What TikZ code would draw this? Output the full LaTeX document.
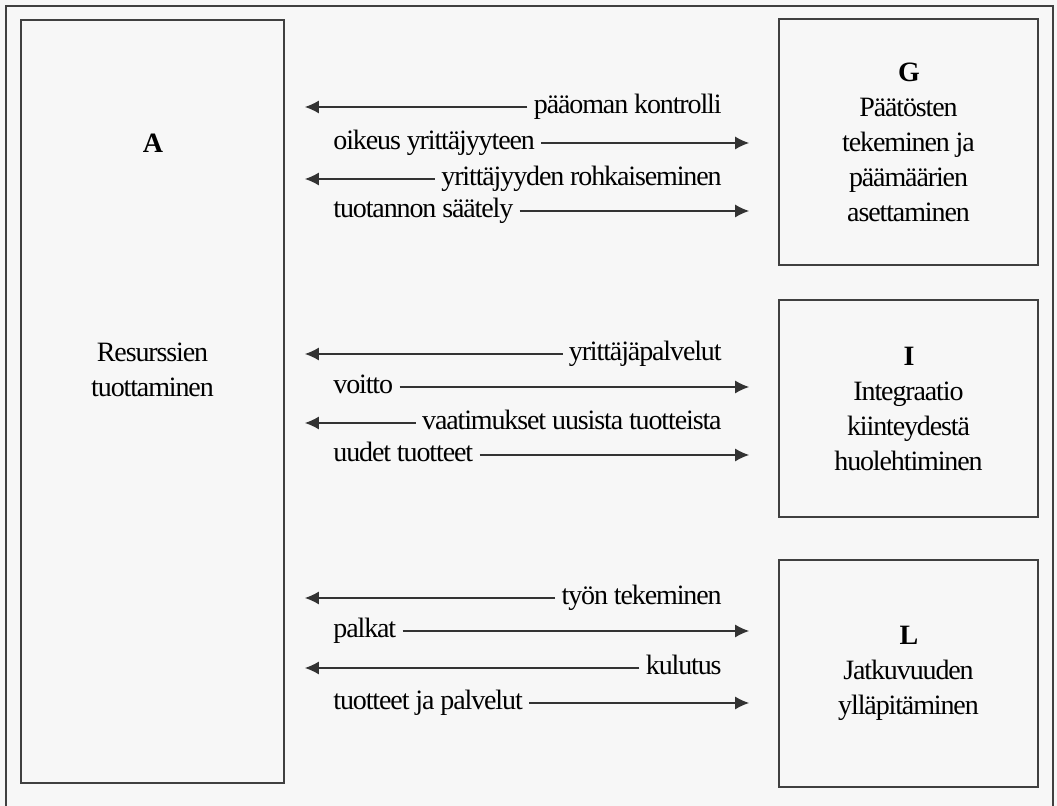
\documentclass[tikz,border=0pt]{standalone}
\usepackage{fontspec}
\setmainfont{Liberation Serif}[LetterSpace=-4]
\usetikzlibrary{arrows.meta}

\begin{document}
\begin{tikzpicture}[x=0.5pt, y=-0.5pt, font=\fontsize{14}{17.5}\selectfont,
		box/.style={draw=black!75, line width=0.9pt, align=center, text=black},
		lbl/.style={text=black, inner xsep=3pt, inner ysep=0pt, text height=6.2pt, text depth=0pt},
		toA/.style={-{Latex[length=7pt,width=6.5pt]}, draw=black!80, line width=0.6pt, shorten >=10pt},
		toR/.style={-{Latex[length=7pt,width=6.5pt]}, draw=black!80, line width=0.6pt, shorten >=14.5pt}]
	\fill[black!3] (0,0) rectangle (1057,806);
	\useasboundingbox (0,0) rectangle (1057,806);
	\draw[black!75, line width=0.9pt] (6,806) -- (6,6) -- (1053,6) -- (1053,806);

	\node[box, minimum width=131.5pt, minimum height=381.5pt] (A) at (152.5,401.5) {};
	\node[text=black] (Atitle) at (152.5,143) {\textbf{A}};
	\node[text=black, align=center] (Atext) at (152.5,370) {Resurssien\\tuottaminen};
	\node[box, minimum width=129.5pt, minimum height=123pt] (G) at (908.5,142) {\textbf{G}\\Päätösten\\tekeminen ja\\päämäärien\\asettaminen};
	\node[box, minimum width=129.5pt, minimum height=108.5pt] (I) at (908.5,408.5) {\textbf{I}\\Integraatio\\kiinteydestä\\huolehtiminen};
	\node[box, minimum width=129.5pt, minimum height=113.5pt] (L) at (908.5,673.5) {\textbf{L}\\Jatkuvuuden\\ylläpitäminen};

	\node[lbl, anchor=east] (kontrolli) at (728,107) {pääoman kontrolli};
	\node[lbl, anchor=west] (oikeus) at (327,143) {oikeus yrittäjyyteen};
	\node[lbl, anchor=east] (rohkaisu) at (728,179) {yrittäjyyden rohkaiseminen};
	\node[lbl, anchor=west] (saately) at (327,211) {tuotannon säätely};
	\node[lbl, anchor=east] (palvelut) at (728,354) {yrittäjäpalvelut};
	\node[lbl, anchor=west] (voitto) at (327,387) {voitto};
	\node[lbl, anchor=east] (vaatimukset) at (728,423) {vaatimukset uusista tuotteista};
	\node[lbl, anchor=west] (uudet) at (327,455) {uudet tuotteet};
	\node[lbl, anchor=east] (tyo) at (728,598) {työn tekeminen};
	\node[lbl, anchor=west] (palkat) at (327,631) {palkat};
	\node[lbl, anchor=east] (kulutus) at (728,668) {kulutus};
	\node[lbl, anchor=west] (tuotteet) at (327,703) {tuotteet ja palvelut};

	\draw[toA] (kontrolli) -- (kontrolli -| A.east);
	\draw[toR] (oikeus) -- (oikeus -| G.west);
	\draw[toA] (rohkaisu) -- (rohkaisu -| A.east);
	\draw[toR] (saately) -- (saately -| G.west);
	\draw[toA] (palvelut) -- (palvelut -| A.east);
	\draw[toR] (voitto) -- (voitto -| I.west);
	\draw[toA] (vaatimukset) -- (vaatimukset -| A.east);
	\draw[toR] (uudet) -- (uudet -| I.west);
	\draw[toA] (tyo) -- (tyo -| A.east);
	\draw[toR] (palkat) -- (palkat -| L.west);
	\draw[toA] (kulutus) -- (kulutus -| A.east);
	\draw[toR] (tuotteet) -- (tuotteet -| L.west);
\end{tikzpicture}
\end{document}
